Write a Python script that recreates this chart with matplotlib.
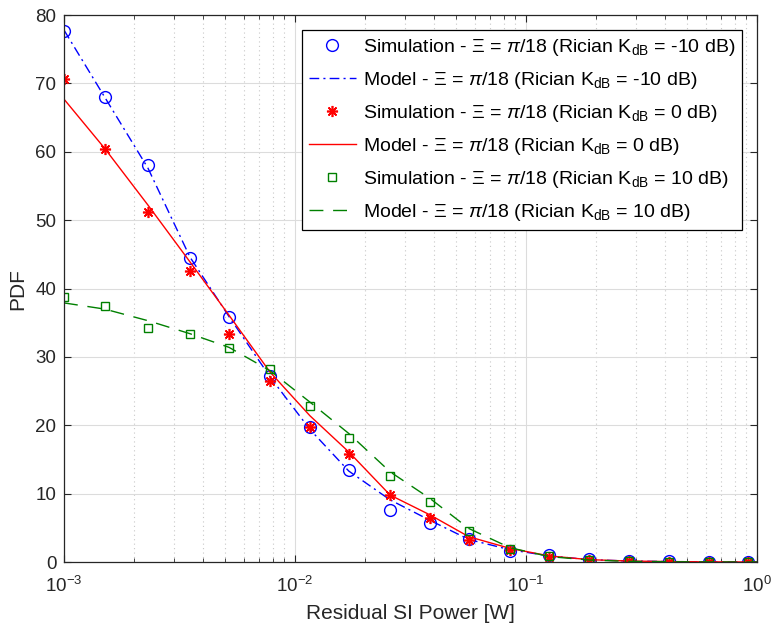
import numpy as np
import matplotlib
matplotlib.use("Agg")
import matplotlib.pyplot as plt
from matplotlib.ticker import LogLocator, NullFormatter

plt.rcParams['font.family'] = ['Liberation Sans', 'DejaVu Sans']
plt.rcParams['mathtext.fontset'] = 'custom'
plt.rcParams['mathtext.rm'] = 'Liberation Sans'
plt.rcParams['mathtext.it'] = 'Liberation Sans:italic'
plt.rcParams['mathtext.bf'] = 'Liberation Sans:bold'

# Residual SI power points (simulation)
x_sim = [1.0e-3, 1.50e-3, 2.31e-3, 3.51e-3, 5.18e-3, 7.79e-3, 1.16e-2, 1.71e-2,
         2.58e-2, 3.84e-2, 5.66e-2, 8.53e-2, 0.126, 0.188, 0.279, 0.416, 0.619, 0.914]
sim_m10 = [77.7, 68.0, 58.0, 44.4, 35.9, 27.2, 19.8, 13.4, 7.6, 5.75, 3.3, 1.65,
           1.0, 0.5, 0.2, 0.1, 0.05, 0.02]
sim_0 = [70.7, 60.4, 51.2, 42.5, 33.4, 26.5, 19.8, 15.75, 9.8, 6.5, 3.2, 1.75,
         0.8, 0.3, 0.15, 0.08, 0.05, 0.03]
sim_10 = [38.7, 37.4, 34.3, 33.4, 31.3, 28.2, 22.8, 18.2, 12.6, 8.8, 4.5, 1.85,
          0.9, 0.35, 0.15, 0.07, 0.04, 0.02]

# model curves
x_mod = [1.0e-3, 1.50e-3, 2.31e-3, 3.51e-3, 5.18e-3, 7.79e-3, 1.16e-2, 1.71e-2,
         2.58e-2, 3.84e-2, 5.66e-2, 8.53e-2, 0.126, 0.188, 0.279, 0.416, 0.619, 0.914, 1.0]
mod_m10 = [77.8, 68.0, 57.6, 44.6, 35.9, 27.1, 19.4, 13.3, 9.1, 6.1, 3.3, 1.8,
           0.9, 0.35, 0.15, 0.07, 0.03, 0.01, 0.01]
mod_0 = [67.7, 60.5, 52.2, 43.9, 36.1, 27.8, 21.4, 16.1, 9.8, 6.9, 3.7, 2.0,
         0.9, 0.35, 0.15, 0.07, 0.03, 0.01, 0.01]
mod_10 = [37.9, 37.0, 35.3, 33.4, 31.4, 28.0, 23.4, 18.8, 13.2, 9.3, 4.9, 2.1,
          0.8, 0.3, 0.1, 0.05, 0.02, 0.01, 0.01]

lab = r' - Ξ = $\pi$/18 (Rician K$_{\mathrm{dB}}$ = %s dB)'

fig = plt.figure(figsize=(7.75, 6.28), dpi=100)
ax = fig.add_axes([0.0826, 0.105, 0.8942, 0.871])

ax.plot(x_sim, sim_m10, linestyle='', marker='o', markersize=8.5, markerfacecolor='none',
        markeredgecolor='blue', markeredgewidth=1.0, label='Simulation' + lab % '-10')
ax.plot(x_mod, mod_m10, color='blue', linestyle=(0, (7, 3, 1.5, 3)), linewidth=1.0,
        label='Model' + lab % '-10')
ax.plot(x_sim, sim_0, linestyle='', marker=(8, 2, 0), markersize=8, markeredgecolor='red',
        markeredgewidth=1.2, label='Simulation' + lab % '0')
ax.plot(x_mod, mod_0, color='red', linestyle='-', linewidth=1.0, label='Model' + lab % '0')
ax.plot(x_sim, sim_10, linestyle='', marker='s', markersize=5.5, markerfacecolor='none',
        markeredgecolor='#008000', markeredgewidth=1.0, label='Simulation' + lab % '10')
ax.plot(x_mod, mod_10, color='#008000', linestyle=(0, (10, 7)), linewidth=1.0,
        label='Model' + lab % '10')

ax.set_xscale('log')
ax.set_xlim(1e-3, 1e0)
ax.set_ylim(0, 80)
ax.set_yticks(np.arange(0, 81, 10))
ax.xaxis.set_minor_locator(LogLocator(base=10, subs=np.arange(2, 10), numticks=20))
ax.xaxis.set_minor_formatter(NullFormatter())

ax.grid(True, which='major', color='#dcdcdc', linewidth=0.8, linestyle='-')
ax.grid(True, which='minor', axis='x', color='#c8c8c8', linewidth=0.8, linestyle=(0, (1, 3)))
ax.set_axisbelow(True)

dark = '#262626'
for s in ax.spines.values():
    s.set_color(dark)
    s.set_linewidth(0.9)
ax.tick_params(which='both', direction='in', top=True, right=True, colors=dark,
               labelsize=13.5, labelcolor=dark)
ax.tick_params(which='major', length=5)
ax.tick_params(which='minor', length=3)
ax.tick_params(axis='x', which='major', pad=10)
ax.tick_params(axis='y', which='major', pad=5.5)

ax.set_xlabel('Residual SI Power [W]', fontsize=15, color=dark, labelpad=6)
ax.set_ylabel('PDF', fontsize=15, color=dark, labelpad=6)

leg = ax.legend(loc='upper right', bbox_to_anchor=(0.978, 0.9726), borderaxespad=0,
                fontsize=14, frameon=True, fancybox=False, framealpha=1,
                edgecolor='black', handlelength=2.4, labelspacing=0.62,
                handletextpad=0.36, borderpad=0.35)
leg.get_frame().set_linewidth(0.9)

fig.savefig('out.png', dpi=100)
